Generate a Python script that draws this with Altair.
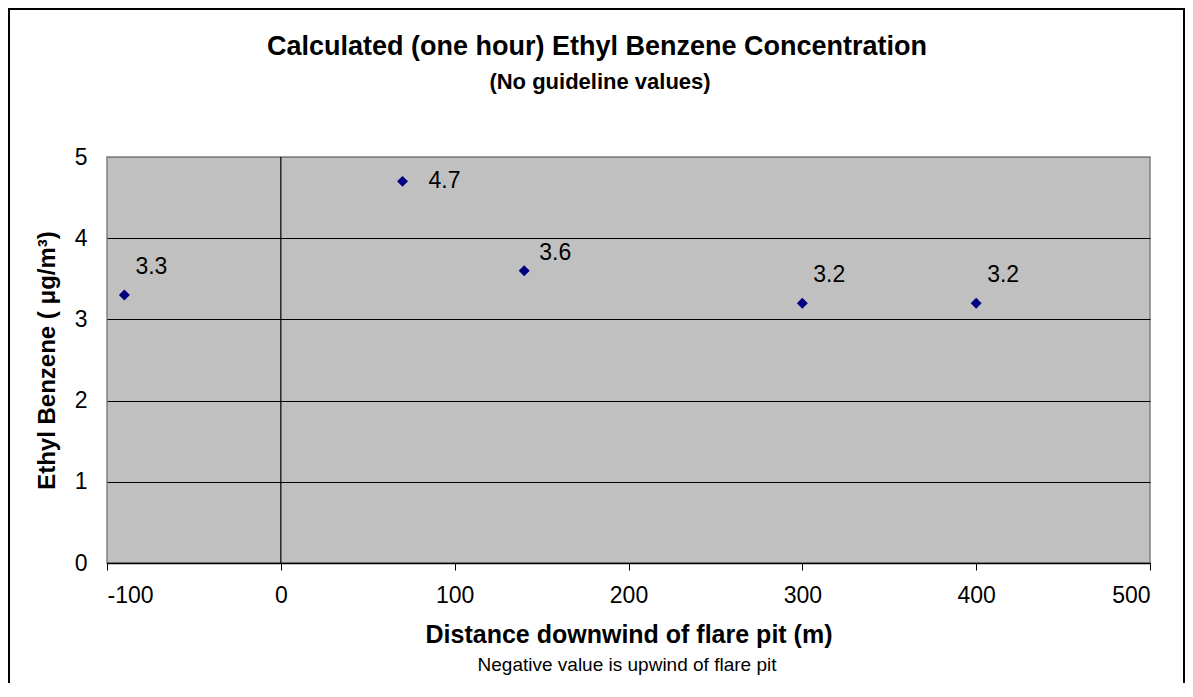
import altair as alt
import pandas as pd

distance = [-90, 70, 140, 300, 400]
concentration = [3.3, 4.7, 3.6, 3.2, 3.2]
labels = ["3.3", "4.7", "3.6", "3.2", "3.2"]
x_ticks = [-100, 0, 100, 200, 300, 400, 500]
y_ticks = [0, 1, 2, 3, 4, 5]

title_text = "Calculated (one hour) Ethyl Benzene Concentration"
subtitle_text = "(No guideline values)"
note_text = "Negative value is upwind of flare pit"

df = pd.DataFrame({"x": distance, "y": concentration, "label": labels})

FONT = "Liberation Sans"
W, H = 1043, 406

x_enc = alt.X("x:Q", scale=alt.Scale(domain=[-100, 500], nice=False, zero=False),
              axis=alt.Axis(values=x_ticks, title="Distance downwind of flare pit (m)",
                            labelExpr="'' + datum.value",
                            grid=False, ticks=True, tickSize=7, tickColor="black",
                            domain=True, domainColor="black", domainWidth=1.5,
                            labelFontSize=23, labelPadding=14, labelColor="black",
                            labelFont=FONT, titleFont=FONT, titleFontSize=25,
                            titleFontWeight="bold", titleColor="black", titlePadding=15))
y_enc = alt.Y("y:Q", scale=alt.Scale(domain=[0, 5], nice=False),
              axis=alt.Axis(values=y_ticks, title="Ethyl Benzene ( μg/m³)",
                            labelExpr="'' + datum.value",
                            grid=True,
                            gridColor={"condition": {"test": "datum.value === 5", "value": "#808080"},
                                       "value": "black"},
                            gridWidth=1.2, ticks=False, domain=False,
                            labelFontSize=23, labelPadding=20, labelColor="black",
                            labelFont=FONT, titleFont=FONT, titleFontSize=24,
                            titleFontWeight="bold", titleColor="black", titlePadding=15))

base = alt.Chart(df)

zero_rule = alt.Chart(pd.DataFrame({"z": [0]})).mark_rule(color="black", strokeWidth=1.2).encode(
    x=alt.X("z:Q", scale=alt.Scale(domain=[-100, 500], nice=False, zero=False))
)

points = base.mark_point(shape="diamond", filled=True, color="#000080", size=120, opacity=1).encode(
    x=x_enc, y=y_enc
)

txt_common = dict(align="left", baseline="middle", fontSize=23, font=FONT, color="black")
t_a = base.transform_filter("datum.x == -90 || datum.x == 300 || datum.x == 400").mark_text(
    dx=11, dy=-28, **txt_common).encode(x="x:Q", y="y:Q", text="label:N")
t_b = base.transform_filter("datum.x == 140").mark_text(
    dx=15, dy=-18, **txt_common).encode(x="x:Q", y="y:Q", text="label:N")
t_c = base.transform_filter("datum.x == 70").mark_text(
    dx=26, dy=0, **txt_common).encode(x="x:Q", y="y:Q", text="label:N")

title = alt.Chart(pd.DataFrame({"t": [title_text]})).mark_text(
    fontSize=27, font=FONT, fontWeight="bold", color="black", align="center", baseline="middle"
).encode(x=alt.value(490), y=alt.value(-110), text="t:N")

subtitle = alt.Chart(pd.DataFrame({"t": [subtitle_text]})).mark_text(
    fontSize=22, font=FONT, fontWeight="bold", color="black", align="center", baseline="middle"
).encode(x=alt.value(493), y=alt.value(-75), text="t:N")

note = alt.Chart(pd.DataFrame({"t": [note_text]})).mark_text(
    fontSize=19, font=FONT, color="black", align="center", baseline="middle"
).encode(x=alt.value(520), y=alt.value(508), text="t:N")

border = alt.Chart(pd.DataFrame({"a": [0]})).mark_rect(
    filled=False, stroke="black", strokeWidth=2
).encode(x=alt.value(-98), x2=alt.value(1077), y=alt.value(-148), y2=alt.value(700))

chart = alt.layer(zero_rule, points, t_a, t_b, t_c, title, subtitle, note, border).properties(
    width=W, height=H,
    padding={"left": 99, "top": 149, "right": 35, "bottom": 120},
    autosize=alt.AutoSizeParams(type="none"),
    background="white",
).configure_view(fill="#C0C0C0", stroke="#808080", strokeWidth=1.5)

chart.save("out.html", embed_options={"renderer": "svg", "actions": False})
